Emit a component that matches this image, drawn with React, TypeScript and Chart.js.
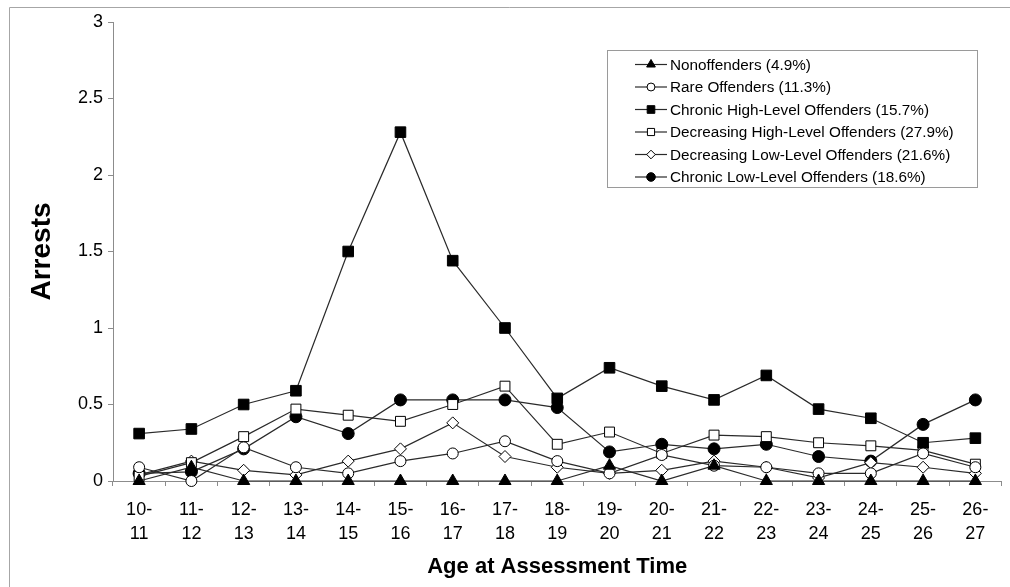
import React, { useEffect, useRef } from "react";
import { Chart, registerables } from "chart.js";

Chart.register(...registerables);

const ageGroups = ["10-11", "11-12", "12-13", "13-14", "14-15", "15-16", "16-17", "17-18", "18-19", "19-20", "20-21", "21-22", "22-23", "23-24", "24-25", "25-26", "26-27"];

const nonoffenders = [0, 0.09, 0, 0, 0, 0, 0, 0, 0, 0.1, 0, 0.1, 0, 0, 0, 0, 0];
const rareOffenders = [0.09, 0, 0.22, 0.09, 0.05, 0.13, 0.18, 0.26, 0.13, 0.05, 0.17, 0.1, 0.09, 0.05, 0.05, 0.18, 0.09];
const chronicHigh = [0.31, 0.34, 0.5, 0.59, 1.5, 2.28, 1.44, 1.0, 0.54, 0.74, 0.62, 0.53, 0.69, 0.47, 0.41, 0.25, 0.28];
const decreasingHigh = [0.03, 0.12, 0.29, 0.47, 0.43, 0.39, 0.5, 0.62, 0.24, 0.32, 0.18, 0.3, 0.29, 0.25, 0.23, 0.2, 0.11];
const decreasingLow = [0.04, 0.13, 0.07, 0.04, 0.13, 0.21, 0.38, 0.16, 0.09, 0.05, 0.07, 0.13, 0.09, 0.02, 0.12, 0.09, 0.05];
const chronicLow = [0.05, 0.06, 0.21, 0.42, 0.31, 0.53, 0.53, 0.53, 0.48, 0.19, 0.24, 0.21, 0.24, 0.16, 0.13, 0.37, 0.53];

const seriesNames = [
  "Nonoffenders (4.9%)",
  "Rare Offenders (11.3%)",
  "Chronic High-Level Offenders (15.7%)",
  "Decreasing High-Level Offenders (27.9%)",
  "Decreasing Low-Level Offenders (21.6%)",
  "Chronic Low-Level Offenders (18.6%)",
];

const yTitle = "Arrests";
const xTitle = "Age at Assessment Time";

const FONT = "'Liberation Sans', Arial, Helvetica, sans-serif";
const LINE = "#2a2a2a";
const AXIS = "#8c8c8c";

type MarkerStyle = { shape: string; filled: boolean; radius: number };
const markers: MarkerStyle[] = [
  { shape: "triangle", filled: true, radius: 7 },
  { shape: "circle", filled: false, radius: 5.5 },
  { shape: "rect", filled: true, radius: 7.5 },
  { shape: "rect", filled: false, radius: 7 },
  { shape: "rectRot", filled: false, radius: 6 },
  { shape: "circle", filled: true, radius: 6 },
];

function drawMarker(ctx: CanvasRenderingContext2D, shape: string, filled: boolean, x: number, y: number, r: number) {
  ctx.beginPath();
  if (shape === "circle") {
    ctx.arc(x, y, r, 0, Math.PI * 2);
  } else if (shape === "rect") {
    const s = r * Math.SQRT1_2;
    ctx.rect(x - s, y - s, 2 * s, 2 * s);
  } else if (shape === "rectRot") {
    ctx.moveTo(x, y - r);
    ctx.lineTo(x + r, y);
    ctx.lineTo(x, y + r);
    ctx.lineTo(x - r, y);
    ctx.closePath();
  } else if (shape === "triangle") {
    const h = r * 1.5;
    const w = r * Math.sqrt(3) / 2;
    ctx.moveTo(x, y - r);
    ctx.lineTo(x + w, y + h - r);
    ctx.lineTo(x - w, y + h - r);
    ctx.closePath();
  }
  ctx.fillStyle = filled ? "#000" : "#fff";
  ctx.fill();
  ctx.lineWidth = 1;
  ctx.strokeStyle = "#000";
  ctx.stroke();
}

const decorPlugin = {
  id: "decor",
  beforeDraw(chart: any) {
    const ctx = chart.ctx as CanvasRenderingContext2D;
    ctx.save();
    ctx.fillStyle = "#fff";
    ctx.fillRect(0, 0, chart.width, chart.height);
    ctx.strokeStyle = "#a6a6a6";
    ctx.lineWidth = 1;
    ctx.beginPath();
    ctx.moveTo(9.5, chart.height);
    ctx.lineTo(9.5, 7.5);
    ctx.lineTo(chart.width, 7.5);
    ctx.stroke();
    ctx.restore();
  },
  afterDraw(chart: any) {
    const ctx = chart.ctx as CanvasRenderingContext2D;
    const area = chart.chartArea;
    ctx.save();
    // axis titles
    ctx.fillStyle = "#000";
    ctx.textAlign = "center";
    ctx.textBaseline = "middle";
    ctx.font = `bold 22px ${FONT}`;
    ctx.fillText(xTitle, (area.left + area.right) / 2, 567);
    ctx.save();
    ctx.translate(42, (area.top + area.bottom) / 2);
    ctx.rotate(-Math.PI / 2);
    ctx.font = `bold 28px ${FONT}`;
    ctx.fillText(yTitle, 0, 0);
    ctx.restore();

    // legend
    const bx = 607.5, by = 50.5, bw = 370, bh = 137;
    ctx.fillStyle = "#fff";
    ctx.fillRect(bx, by, bw, bh);
    ctx.strokeStyle = "#9a9a9a";
    ctx.lineWidth = 1;
    ctx.strokeRect(bx, by, bw, bh);
    ctx.font = `15.3px ${FONT}`;
    ctx.textAlign = "left";
    ctx.textBaseline = "middle";
    seriesNames.forEach((name, i) => {
      const y = 64.5 + i * 22.5;
      ctx.strokeStyle = LINE;
      ctx.lineWidth = 1.2;
      ctx.beginPath();
      ctx.moveTo(635, y);
      ctx.lineTo(667, y);
      ctx.stroke();
      const m = markers[i];
      drawMarker(ctx, m.shape, m.filled, 651, y, m.radius * 0.72);
      ctx.fillStyle = "#000";
      ctx.fillText(name, 670, y + 1);
    });
    ctx.restore();
  },
};

const seriesValues = [nonoffenders, rareOffenders, chronicHigh, decreasingHigh, decreasingLow, chronicLow];

export default function App() {
  const canvasRef = useRef<HTMLCanvasElement | null>(null);

  useEffect(() => {
    document.body.style.margin = "0";
    const canvas = canvasRef.current;
    if (!canvas) return;
    const chart = new Chart(canvas, {
      type: "line",
      data: {
        labels: ageGroups,
        datasets: seriesValues.map((vals, i) => ({
          label: seriesNames[i],
          data: vals,
          borderColor: LINE,
          borderWidth: 1.2,
          backgroundColor: markers[i].filled ? "#000" : "#fff",
          pointStyle: markers[i].shape as any,
          pointRadius: markers[i].radius,
          pointHoverRadius: markers[i].radius,
          pointBackgroundColor: markers[i].filled ? "#000" : "#fff",
          pointBorderColor: "#000",
          pointBorderWidth: 1,
          tension: 0,
          fill: false,
          clip: false as any,
        })),
      },
      options: {
        animation: false,
        responsive: false,
        events: [],
        layout: { padding: { left: 0, right: 8, top: 22, bottom: 0 } },
        plugins: {
          legend: { display: false },
          tooltip: { enabled: false },
          title: { display: false },
        },
        scales: {
          x: {
            type: "category",
            offset: true,
            afterFit: (scale: any) => {
              scale.height = 106;
            },
            grid: {
              offset: true,
              drawOnChartArea: false,
              drawTicks: true,
              tickLength: 5,
              color: AXIS,
            },
            border: { display: true, color: AXIS, width: 1 },
            ticks: {
              color: "#000",
              padding: 13,
              maxRotation: 0,
              autoSkip: false,
              font: { family: FONT, size: 18, lineHeight: 1.28 },
              callback: function (this: any, _v: any, idx: number) {
                const s = ageGroups[idx];
                const parts = s.split("-");
                return [parts[0] + "-", parts[1]];
              },
            },
          },
          y: {
            min: 0,
            max: 3,
            afterFit: (scale: any) => {
              scale.width = 113;
            },
            grid: {
              drawOnChartArea: false,
              drawTicks: true,
              tickLength: 5,
              color: AXIS,
            },
            border: { display: true, color: AXIS, width: 1 },
            ticks: {
              stepSize: 0.5,
              color: "#000",
              padding: 5,
              font: { family: FONT, size: 18 },
              callback: (v: any) => String(Number(v)),
            },
          },
        },
      },
      plugins: [decorPlugin],
    });
    return () => chart.destroy();
  }, []);

  return (
    <div style={{ width: 1010, height: 587 }}>
      <canvas ref={canvasRef} width={1010} height={587} style={{ display: "block" }} />
    </div>
  );
}
